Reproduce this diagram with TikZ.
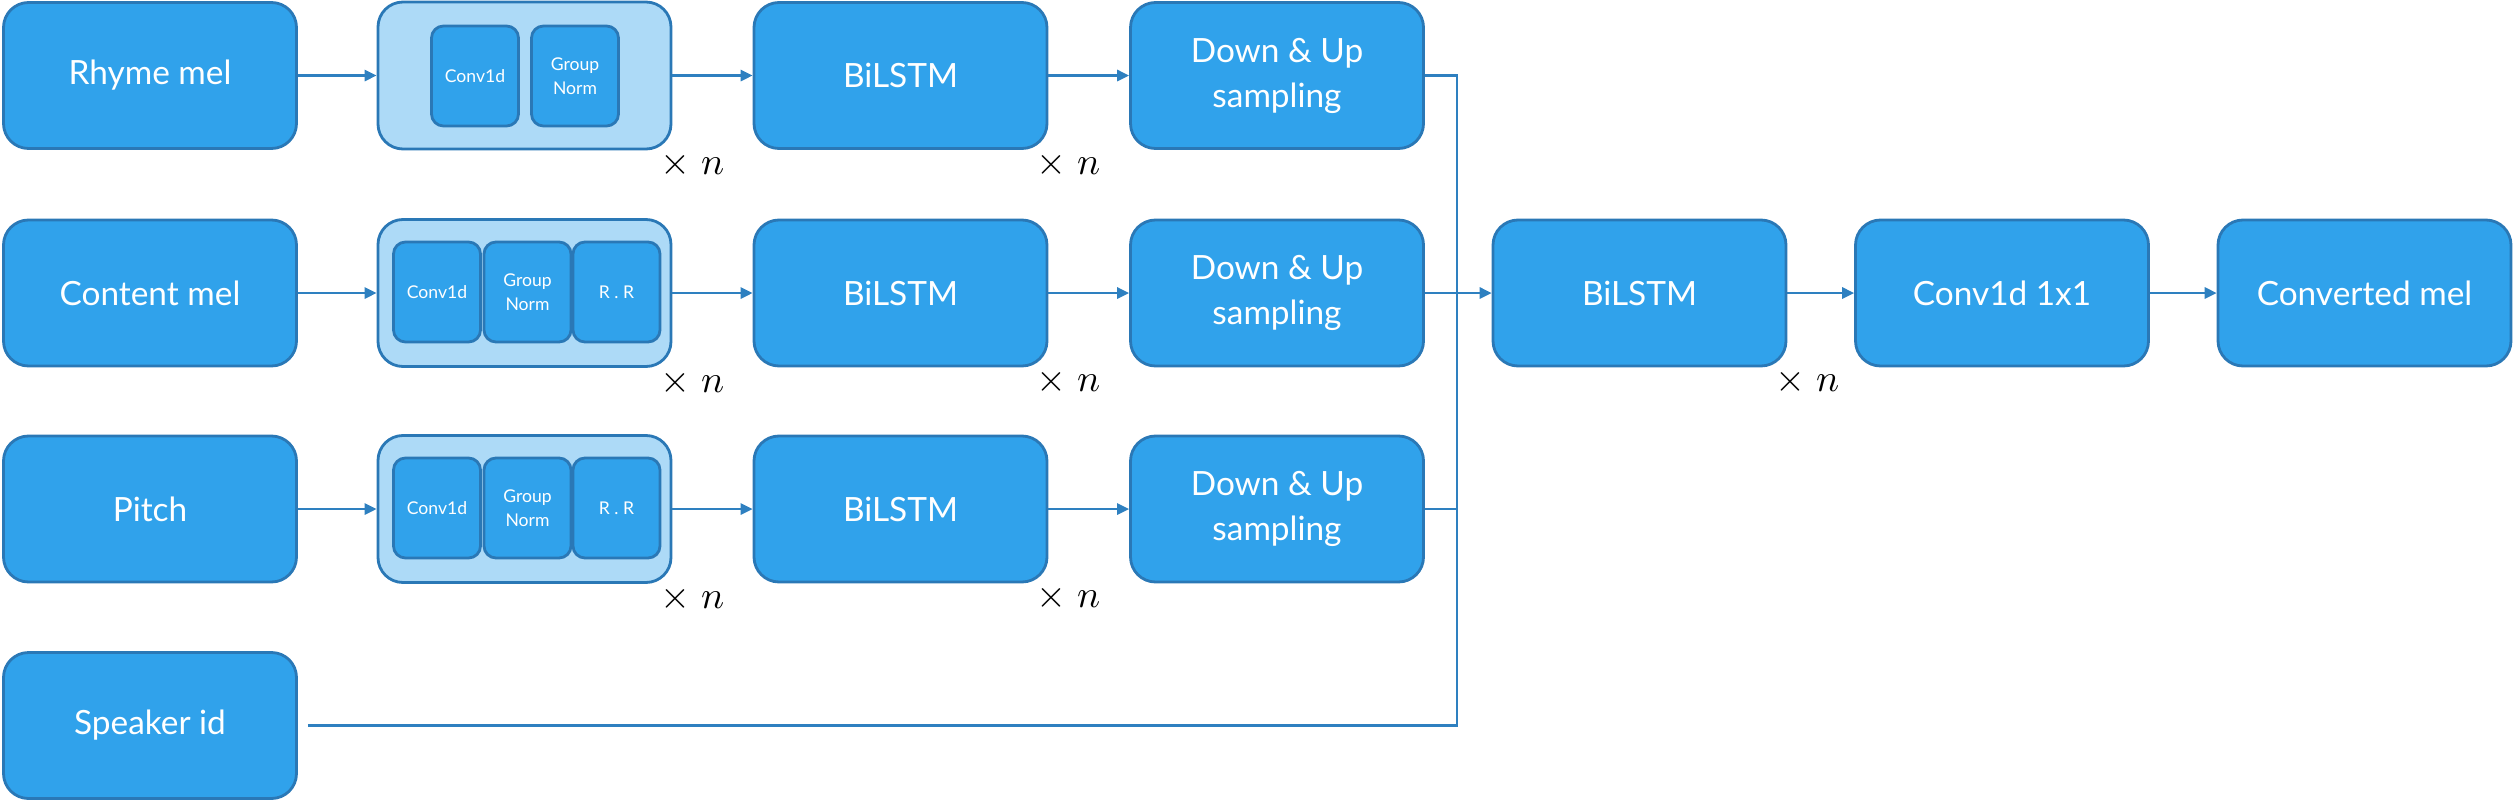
\documentclass[tikz,border=0pt]{standalone}
\usepackage{fontspec}
\setmainfont{Lato}
\usetikzlibrary{arrows.meta, calc, positioning}
\usepackage{xcolor}
\definecolor{BlkF} {HTML}{30A2EB}
\definecolor{BlkD} {HTML}{2A78B6}
\definecolor{GrpF} {HTML}{ADDAF7}
\definecolor{Wire} {HTML}{2E80C0}
\tikzset{
  blk/.style={
    rectangle, rounded corners=0.25cm,
    draw=BlkD, fill=BlkF, text=white,
    font=\fontsize{9.5}{12.8}\selectfont, align=center,
    inner sep=2pt, minimum width=2.93cm, minimum height=1.46cm,
    line width=0.8pt,
  },
  grp/.style={
    rectangle, rounded corners=0.25cm,
    draw=BlkD, fill=GrpF,
    inner sep=0pt, minimum width=2.93cm, minimum height=1.47cm,
    line width=0.8pt,
  },
  sblk/.style={
    rectangle, rounded corners=0.12cm,
    draw=BlkD, fill=BlkF, text=white,
    font=\fontsize{5}{6.8}\selectfont, align=center,
    inner sep=1pt, minimum width=0.87cm, minimum height=1.0cm,
    line width=0.8pt,
  },
  arr/.style={
    -{Triangle[length=3.4pt,width=3.2pt]},
    line width=0.6pt, color=Wire,
  },
  wire/.style={line width=0.6pt, color=Wire},
  % repeat mark under a block
  rep/.style={
    font=\fontsize{10.5}{12}\selectfont, anchor=north,
    inner sep=0pt, xshift=0.2cm, yshift=-0.01cm,
  },
}
\begin{document}
\begin{tikzpicture}[x=1cm,y=1cm]
  \useasboundingbox (0,0) rectangle (25.14,-8.02);
  % inputs
  \node[blk] (rhy) at ( 1.50,-0.755) {Rhyme mel};
  \node[blk] (con) at ( 1.50,-2.93)  {Content mel};
  \node[blk] (pit) at ( 1.50,-5.09)  {Pitch};
  \node[blk] (spk) at ( 1.50,-7.255) {Speaker id};
  % conv groups
  \node[grp] (g1) at (5.245,-0.755) {};
  \node[sblk] (g1c) at (4.75,-0.76) {Conv1d};
  \node[sblk] (g1n) at (5.75,-0.76) {Group\\Norm};
  \node[grp] (g2) at (5.245,-2.93) {};
  \node[sblk] (g2c) at (4.37, -2.92) {Conv1d};
  \node[sblk] (g2n) at (5.275,-2.92) {Group\\Norm};
  \node[sblk] (g2r) at (6.165,-2.92) {R . R};
  \node[grp] (g3) at (5.245,-5.09) {};
  \node[sblk] (g3c) at (4.37, -5.08) {Conv1d};
  \node[sblk] (g3n) at (5.275,-5.08) {Group\\Norm};
  \node[sblk] (g3r) at (6.165,-5.08) {R . R};
  % branches
  \node[blk] (bl1) at ( 9.005,-0.755) {BiLSTM};
  \node[blk] (bl2) at ( 9.005,-2.93)  {BiLSTM};
  \node[blk] (bl3) at ( 9.005,-5.09)  {BiLSTM};
  \node[blk] (du1) at (12.77, -0.755) {Down \& Up\\sampling};
  \node[blk] (du2) at (12.77, -2.93)  {Down \& Up\\sampling};
  \node[blk] (du3) at (12.77, -5.09)  {Down \& Up\\sampling};
  % merged path
  \node[blk] (blc) at (16.395,-2.93) {BiLSTM};
  \node[blk] (cv)  at (20.02, -2.93) {Conv1d 1x1};
  \node[blk] (out) at (23.645,-2.93) {Converted mel};
  \node[rep] (r1a) at (g1.south east)  {$\times\;n$};
  \node[rep] (r2a) at (g2.south east)  {$\times\;n$};
  \node[rep] (r3a) at (g3.south east)  {$\times\;n$};
  \node[rep] (r1b) at (bl1.south east) {$\times\;n$};
  \node[rep] (r2b) at (bl2.south east) {$\times\;n$};
  \node[rep] (r3b) at (bl3.south east) {$\times\;n$};
  \node[rep] (rc)  at (blc.south east) {$\times\;n$};
  \draw[arr] (rhy) -- (g1);
  \draw[arr] (con) -- (g2);
  \draw[arr] (pit) -- (g3);
  \draw[arr] (g1) -- (bl1);
  \draw[arr] (g2) -- (bl2);
  \draw[arr] (g3) -- (bl3);
  \draw[arr] (bl1) -- (du1);
  \draw[arr] (bl2) -- (du2);
  \draw[arr] (bl3) -- (du3);
  \coordinate (jn) at (14.57,-2.93);
  \draw[wire] (du1.east) -| (jn);
  \draw[wire] (du3.east) -| (jn);
  \draw[wire] ([xshift=0.1cm]spk.east) -| (jn);
  \draw[arr] (du2) -- (blc);
  \draw[arr] (blc) -- (cv);
  \draw[arr] (cv) -- (out);
\end{tikzpicture}
\end{document}
